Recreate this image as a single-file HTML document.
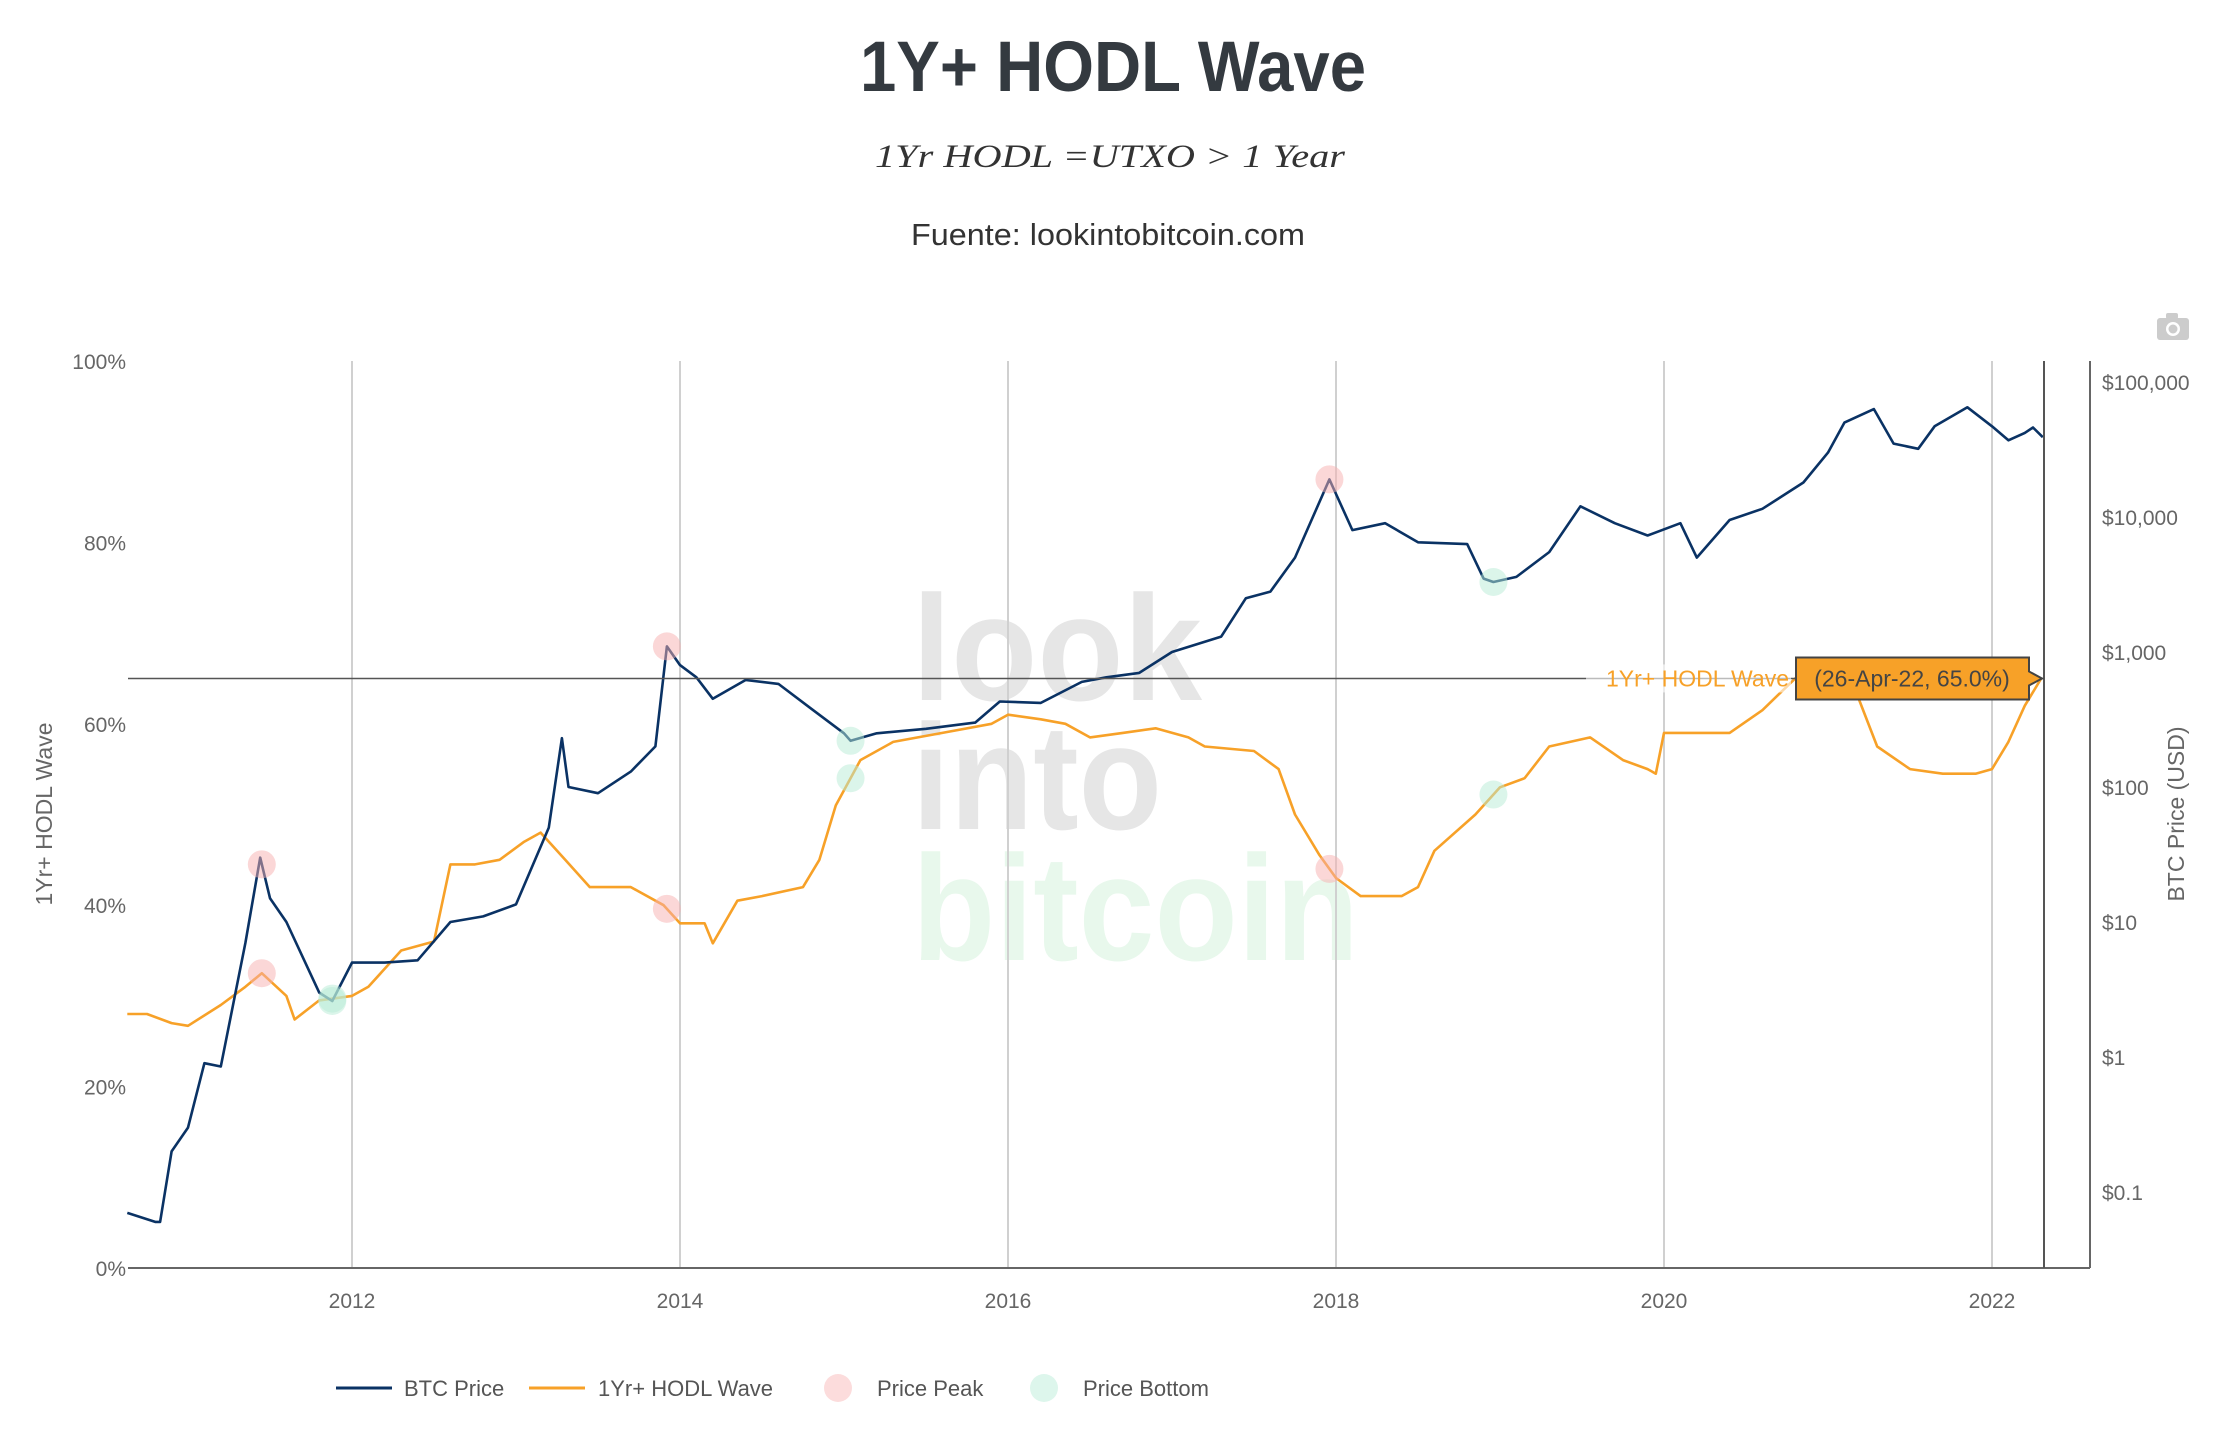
<!DOCTYPE html>
<html><head><meta charset="utf-8"><style>
html,body{margin:0;padding:0;background:#fff;}
svg{display:block;font-family:"Liberation Sans",sans-serif;}
</style></head><body>
<svg id="chart" width="2236" height="1454" viewBox="0 0 2236 1454" xmlns="http://www.w3.org/2000/svg">
<text x="1113" y="91" text-anchor="middle" font-size="71" font-weight="bold" fill="#343a40" textLength="506" lengthAdjust="spacingAndGlyphs">1Y+ HODL Wave</text>
<text x="1110" y="167" text-anchor="middle" font-size="33" font-style="italic" fill="#333" font-family="Liberation Serif, serif" textLength="470" lengthAdjust="spacingAndGlyphs">1Yr HODL =UTXO &gt; 1 Year</text>
<text x="1108" y="245" text-anchor="middle" font-size="31" fill="#333" textLength="394" lengthAdjust="spacingAndGlyphs">Fuente: lookintobitcoin.com</text>
<g fill="#ccc"><rect x="2157" y="318" width="32" height="22" rx="3"/><rect x="2166" y="313" width="12" height="6" rx="2"/><circle cx="2173" cy="329" r="7" fill="#fff"/><circle cx="2173" cy="329" r="4.5" fill="#ccc"/></g>
<g font-weight="bold" font-size="150">
<text x="912" y="700" fill="#e6e6e6" textLength="290" lengthAdjust="spacingAndGlyphs">look</text>
<text x="912" y="829" fill="#e6e6e6" textLength="250" lengthAdjust="spacingAndGlyphs">into</text>
<text x="912" y="960" fill="#e8f8ec" textLength="447" lengthAdjust="spacingAndGlyphs">bitcoin</text>
</g>
<g id="grid"></g>
<g id="axes"></g>
<g id="series"></g>
<g id="overlay"></g>
<g font-size="22" fill="#555">
<g><line x1="336" y1="1388" x2="392" y2="1388" stroke="#0a3264" stroke-width="3"/><text x="404" y="1396" fill="#555">BTC Price</text></g>
<g><line x1="529" y1="1388" x2="585" y2="1388" stroke="#f7a128" stroke-width="3"/><text x="598" y="1396" fill="#555">1Yr+ HODL Wave</text></g>
<g><circle cx="838" cy="1388" r="14" fill="#fcdcdc"/><text x="877" y="1396" fill="#555">Price Peak</text></g>
<g><circle cx="1044" cy="1388" r="14" fill="#ddf6ec"/><text x="1083" y="1396" fill="#555">Price Bottom</text></g>
</g>
</svg>
<script>
const priceDates=[2010.63,2010.8,2010.83,2010.9,2011.0,2011.1,2011.2,2011.35,2011.44,2011.5,2011.6,2011.8,2011.88,2012.0,2012.2,2012.4,2012.6,2012.8,2013.0,2013.2,2013.28,2013.32,2013.5,2013.7,2013.85,2013.92,2014.0,2014.1,2014.2,2014.4,2014.6,2014.8,2015.0,2015.04,2015.2,2015.5,2015.8,2015.95,2016.2,2016.45,2016.6,2016.8,2017.0,2017.3,2017.45,2017.6,2017.75,2017.96,2018.1,2018.3,2018.5,2018.8,2018.9,2018.96,2019.1,2019.3,2019.49,2019.7,2019.9,2020.1,2020.2,2020.4,2020.6,2020.85,2021.0,2021.1,2021.28,2021.4,2021.55,2021.65,2021.85,2022.0,2022.1,2022.2,2022.25,2022.31];
const priceValues=[0.07,0.06,0.06,0.2,0.3,0.9,0.85,7,30,15,10,3,2.6,5,5,5.2,10,11,13.5,50,230,100,90,130,200,1100,800,650,450,620,580,380,250,220,250,270,300,430,420,600,650,700,1000,1300,2500,2800,5000,19000,8000,9000,6500,6300,3500,3300,3600,5500,12000,9000,7300,9000,5000,9500,11500,18000,30000,50000,63000,35000,32000,47000,65000,47000,37000,42000,46000,39000];
const hodlDates=[2010.63,2010.75,2010.9,2011.0,2011.2,2011.35,2011.45,2011.6,2011.65,2011.8,2012.0,2012.1,2012.3,2012.5,2012.6,2012.75,2012.9,2013.05,2013.15,2013.3,2013.45,2013.7,2013.9,2014.0,2014.15,2014.2,2014.35,2014.5,2014.75,2014.85,2014.95,2015.1,2015.3,2015.6,2015.9,2016.0,2016.2,2016.35,2016.5,2016.7,2016.9,2017.1,2017.2,2017.5,2017.65,2017.75,2017.9,2018.0,2018.15,2018.4,2018.5,2018.6,2018.85,2019.0,2019.15,2019.3,2019.55,2019.75,2019.9,2019.95,2020.0,2020.2,2020.4,2020.6,2020.8,2021.0,2021.15,2021.3,2021.5,2021.7,2021.9,2022.0,2022.1,2022.2,2022.3];
const hodlValues=[28,28,27,26.7,29,31,32.5,30,27.4,29.5,30,31,35,36,44.5,44.5,45,47,48,45,42,42,40,38,38,35.8,40.5,41,42,45,51,56,58,59,60,61,60.5,60,58.5,59,59.5,58.5,57.5,57,55,50,45.5,43,41,41,42,46,50,53,54,57.5,58.5,56,55,54.5,59,59,59,61.5,65,66,64.5,57.5,55,54.5,54.5,55,58,62,65];
const peakDates=[2011.45,2013.92,2017.96];
const bottomDates=[2011.88,2015.04,2018.96];
const yearTicks=[2012,2014,2016,2018,2020,2022];
const pctTicks=[0,20,40,60,80,100];
const priceTicks=[0.1,1,10,100,1000,10000,100000];
const priceTickLabels=["$0.1","$1","$10","$100","$1,000","$10,000","$100,000"];

const NS="http://www.w3.org/2000/svg";
const L=128,R=2044,T=361,B=1268;
const xS=t=>352+(t-2012)*164;
const yP=p=>B-(p/100)*(B-T);
const yL=v=>382+(5-Math.log10(v))*135;
function mk(parent,tag,attrs){const e=document.createElementNS(NS,tag);for(const k in attrs)e.setAttribute(k,attrs[k]);document.getElementById(parent).appendChild(e);return e;}
function interp(ds,vs,t){for(let i=1;i<ds.length;i++){if(t<=ds[i]){const f=(t-ds[i-1])/(ds[i]-ds[i-1]);return vs[i-1]+f*(vs[i]-vs[i-1]);}}return vs[vs.length-1];}
function interpLog(ds,vs,t){for(let i=1;i<ds.length;i++){if(t<=ds[i]){const f=(t-ds[i-1])/(ds[i]-ds[i-1]);return Math.pow(10,Math.log10(vs[i-1])+f*(Math.log10(vs[i])-Math.log10(vs[i-1])));}}return vs[vs.length-1];}

yearTicks.forEach(y=>{
  const g=mk('grid','line',{x1:xS(y),x2:xS(y),y1:T,y2:B,stroke:'#d0d0d0','stroke-width':2});
  
  
  const t=mk('axes','text',{x:xS(y),y:B+40,'text-anchor':'middle','font-size':21,fill:'#666'});
  t.textContent=y;
  
  
});
pctTicks.forEach(p=>{
  const t=mk('axes','text',{x:L-2,y:yP(p)+8,'text-anchor':'end','font-size':21,fill:'#666'});
  t.textContent=p+'%';
  
  
});
priceTicks.forEach((v,i)=>{
  const t=mk('axes','text',{x:2102,y:yL(v)+8,'font-size':21,fill:'#666'});
  t.textContent=priceTickLabels[i];
  
  
});
let a=mk('axes','line',{x1:L,x2:2090,y1:B,y2:B,stroke:'#666','stroke-width':2});


a=mk('axes','line',{x1:2090,x2:2090,y1:T,y2:B,stroke:'#666','stroke-width':2});


a=mk('axes','text',{x:0,y:0,'font-size':23,fill:'#666','text-anchor':'middle',transform:'translate(52,814) rotate(-90)'});
a.textContent='1Yr+ HODL Wave';


a=mk('axes','text',{x:0,y:0,'font-size':23,fill:'#666','text-anchor':'middle',transform:'translate(2184,814) rotate(-90)'});
a.textContent='BTC Price (USD)';



let d=hodlDates.map((t,i)=>(i?'L':'M')+xS(t).toFixed(1)+','+yP(hodlValues[i]).toFixed(1)).join('');
let s=mk('series','path',{d:d,fill:'none',stroke:'#f7a128','stroke-width':2.6,'stroke-linejoin':'round'});


d=priceDates.map((t,i)=>(i?'L':'M')+xS(t).toFixed(1)+','+yL(priceValues[i]).toFixed(1)).join('');
s=mk('series','path',{d:d,fill:'none',stroke:'#0a3264','stroke-width':2.6,'stroke-linejoin':'round'});


peakDates.forEach((t,i)=>{
  let c=mk('series','circle',{cx:xS(t),cy:yL(interpLog(priceDates,priceValues,t)),r:14,fill:'#f7b0b0','fill-opacity':0.5});
  
  
  c=mk('series','circle',{cx:xS(t),cy:yP(interp(hodlDates,hodlValues,t)),r:14,fill:'#f7b0b0','fill-opacity':0.5});
  
  
});
bottomDates.forEach((t,i)=>{
  let c=mk('series','circle',{cx:xS(t),cy:yL(interpLog(priceDates,priceValues,t)),r:14,fill:'#b8ecd6','fill-opacity':0.5});
  
  
  c=mk('series','circle',{cx:xS(t),cy:yP(interp(hodlDates,hodlValues,t)),r:14,fill:'#b8ecd6','fill-opacity':0.5});
  
  
});
const hy=yP(65);
let o=mk('overlay','line',{x1:L,x2:R,y1:hy,y2:hy,stroke:'#555','stroke-width':1.5});


o=mk('overlay','line',{x1:R,x2:R,y1:T,y2:B,stroke:'#555','stroke-width':2});


o=mk('overlay','rect',{x:1586,y:hy-14,width:205,height:28,fill:'#fff','fill-opacity':0.6});


o=mk('overlay','text',{x:1789,y:hy+8,'text-anchor':'end','font-size':23,fill:'#f7a128'});
o.textContent='1Yr+ HODL Wave';


o=mk('overlay','path',{d:`M1796,${hy-21}H2029V${hy-7}L2042,${hy}L2029,${hy+7}V${hy+21}H1796Z`,fill:'#f7a128',stroke:'#444','stroke-width':2});


o=mk('overlay','text',{x:1912,y:hy+8,'text-anchor':'middle','font-size':23,fill:'#444'});
o.textContent='(26-Apr-22, 65.0%)';


</script>
</body></html>
